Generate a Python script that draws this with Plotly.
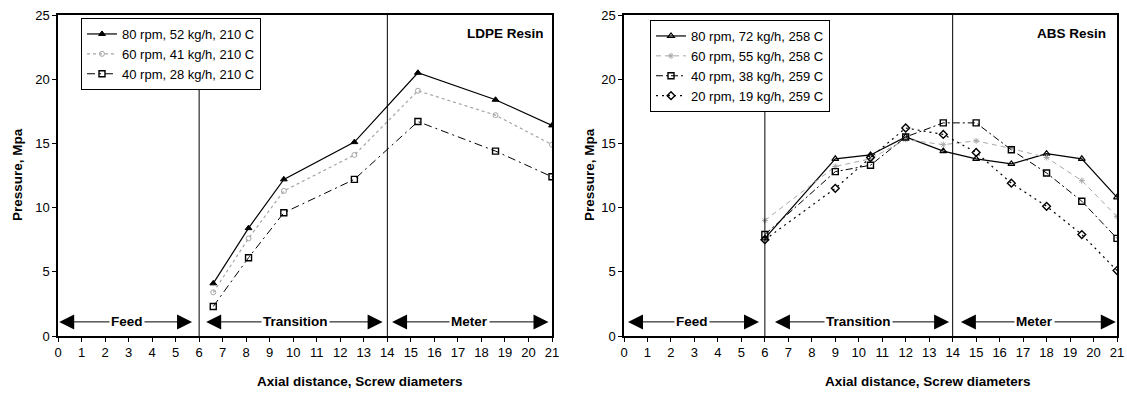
import plotly.graph_objects as go

# ---------------- data ----------------
ldpe_x = [6.6, 8.1, 9.6, 12.6, 15.3, 18.6, 21]
ldpe_80 = [4.1, 8.4, 12.2, 15.1, 20.5, 18.4, 16.4]
ldpe_60 = [3.4, 7.6, 11.3, 14.1, 19.1, 17.2, 14.9]
ldpe_40 = [2.3, 6.1, 9.6, 12.2, 16.7, 14.4, 12.4]
ldpe_names = ["80 rpm, 52 kg/h, 210 C", "60 rpm, 41 kg/h, 210 C", "40 rpm, 28 kg/h, 210 C"]

abs_x = [6, 9, 10.5, 12, 13.6, 15, 16.5, 18, 19.5, 21]
abs_80 = [7.6, 13.8, 14.1, 15.5, 14.4, 13.8, 13.4, 14.2, 13.8, 10.8]
abs_60 = [9.0, 13.2, 13.8, 15.3, 14.9, 15.2, 14.6, 13.9, 12.1, 9.3]
abs_40 = [7.9, 12.8, 13.3, 15.5, 16.6, 16.6, 14.5, 12.7, 10.5, 7.6]
abs_20 = [7.5, 11.5, 13.9, 16.2, 15.7, 14.3, 11.9, 10.1, 7.9, 5.1]
abs_names = ["80 rpm, 72 kg/h, 258 C", "60 rpm, 55 kg/h, 258 C",
             "40 rpm, 38 kg/h, 259 C", "20 rpm, 19 kg/h, 259 C"]

zone_names = ["Feed", "Transition", "Meter"]
zone_bounds = [0, 6, 14, 21]
resin_titles = ["LDPE Resin", "ABS Resin"]
x_title = "Axial distance, Screw diameters"
y_title = "Pressure, Mpa"

# ---------------- figure ----------------
FONT = "Liberation Sans, Arial, sans-serif"
fig = go.Figure()

def add(x, y, name, xa, ya, leg, color, dash, width, symbol, msize, mcolor, mline):
    fig.add_trace(go.Scatter(
        x=x, y=y, name=name, mode="lines+markers", xaxis=xa, yaxis=ya, legend=leg,
        line=dict(color=color, dash=dash, width=width),
        marker=dict(symbol=symbol, size=msize, color=mcolor,
                    line=dict(color=color, width=mline)),
    ))

# LDPE
add(ldpe_x, ldpe_80, ldpe_names[0], "x", "y", "legend", "black", "solid", 1.2, "triangle-up", 6, "black", 1)
add(ldpe_x, ldpe_60, ldpe_names[1], "x", "y", "legend", "#a5a5a5", "dot", 1.2, "circle-open", 5, "#a5a5a5", 1)
add(ldpe_x, ldpe_40, ldpe_names[2], "x", "y", "legend", "black", "8px,4px,2px,4px", 1.0, "square-open", 6, "black", 1.4)
# ABS
add(abs_x, abs_80, abs_names[0], "x2", "y2", "legend2", "black", "solid", 1.2, "triangle-up-open", 6, "black", 1.2)
add(abs_x, abs_60, abs_names[1], "x2", "y2", "legend2", "#a8a8a8", "5px,4px", 1.0, "asterisk-open", 5, "#a8a8a8", 1)
add(abs_x, abs_40, abs_names[2], "x2", "y2", "legend2", "black", "7px,3px,2px,3px", 1.0, "square-open", 6, "black", 1.4)
add(abs_x, abs_20, abs_names[3], "x2", "y2", "legend2", "black", "2px,4px", 1.2, "diamond-open", 6, "black", 1.4)

W, H = 1127, 395
L_dom = [58 / W, 552 / W]
R_dom = [624 / W, 1117 / W]
Y_dom = [1 - 336 / H, 1 - 15 / H]

def xax(dom, anchor, **kw):
    d = dict(domain=dom, anchor=anchor, range=[0, 21], tick0=0, dtick=1,
             showgrid=False, zeroline=False, showline=True, linecolor="black",
             linewidth=1.5, mirror=True, ticks="outside", ticklen=4, tickcolor="black",
             automargin=False,
             tickfont=dict(family=FONT, size=13, color="black"))
    d.update(kw)
    return d

def yax(anchor, **kw):
    d = dict(domain=Y_dom, anchor=anchor, range=[0, 25], tick0=0, dtick=5,
             showgrid=False, zeroline=False, showline=True, linecolor="black",
             linewidth=1.5, mirror=True, ticks="outside", ticklen=4, tickcolor="black",
             automargin=False,
             tickfont=dict(family=FONT, size=13, color="black"))
    d.update(kw)
    return d

leg_common = dict(bordercolor="black", borderwidth=1, bgcolor="white",
                  font=dict(family=FONT, size=13, color="black"),
                  xanchor="left", yanchor="top", tracegroupgap=0)

fig.update_layout(
    width=W, height=H, margin=dict(l=0, r=0, t=0, b=0, autoexpand=False),
    paper_bgcolor="white", plot_bgcolor="white",
    xaxis=xax(L_dom, "y"),
    yaxis=yax("x"),
    xaxis2=xax(R_dom, "y2"),
    yaxis2=yax("x2"),
    # overlay axes giving inside ticks (cross ticks)
    xaxis3=xax(L_dom, "y", overlaying="x", ticks="inside", showticklabels=False, showline=False, mirror=False),
    yaxis3=yax("x", overlaying="y", ticks="inside", showticklabels=False, showline=False, mirror=False),
    xaxis4=xax(R_dom, "y2", overlaying="x2", ticks="inside", showticklabels=False, showline=False, mirror=False),
    yaxis4=yax("x2", overlaying="y2", ticks="inside", showticklabels=False, showline=False, mirror=False),
    legend=dict(x=81 / W, y=1 - 18 / H, **leg_common),
    legend2=dict(x=650 / W, y=1 - 20 / H, **leg_common),
    showlegend=True,
)

# zone dividers and arrows
divider_tops = [{6: 19.7, 14: 25}, {6: 18.0, 14: 25}]
arrow_ends = [
    [(0.05, 5.7), (6.3, 13.8), (14.2, 20.85)],
    [(0.17, 5.75), (6.43, 13.85), (14.35, 20.95)],
]
label_pos = [[2.95, 10.1, 17.5], [2.9, 10.0, 17.5]]
arrow_y = 1.1
annotations = []
shapes = []
for p, (xr, yr) in enumerate([("x", "y"), ("x2", "y2")]):
    for b in zone_bounds[1:-1]:
        shapes.append(dict(type="line", xref=xr, yref=yr, x0=b, x1=b, y0=0,
                           y1=divider_tops[p][b], line=dict(color="black", width=1)))
    for z, name in enumerate(zone_names):
        a, bnd = arrow_ends[p][z]
        c = label_pos[p][z]
        for tip in (a, bnd):
            annotations.append(dict(x=tip, y=arrow_y, ax=c, ay=arrow_y, xref=xr, yref=yr,
                                    axref=xr, ayref=yr, text="", showarrow=True,
                                    arrowhead=2, arrowsize=3, arrowwidth=1,
                                    arrowcolor="black", standoff=0, startstandoff=0))
    for z, name in enumerate(zone_names):
        annotations.append(dict(x=label_pos[p][z], y=arrow_y, xref=xr, yref=yr, text="<b>%s</b>" % name,
                                showarrow=False, bgcolor="white",
                                font=dict(family=FONT, size=13.5, color="black"), borderpad=1))

# resin titles
annotations.append(dict(x=546 / W, y=1 - 33 / H, xref="paper", yref="paper", xanchor="right",
                        yanchor="middle", text="<b>%s</b>" % resin_titles[0], showarrow=False,
                        font=dict(family=FONT, size=13.5, color="black")))
annotations.append(dict(x=1108 / W, y=1 - 33 / H, xref="paper", yref="paper", xanchor="right",
                        yanchor="middle", text="<b>%s</b>" % resin_titles[1], showarrow=False,
                        font=dict(family=FONT, size=13.5, color="black")))
# axis titles
for cx in (360, 928):
    annotations.append(dict(x=cx / W, y=1 - 381 / H, xref="paper", yref="paper", xanchor="center",
                            yanchor="middle", text="<b>%s</b>" % x_title, showarrow=False,
                            font=dict(family=FONT, size=13.5, color="black")))
for cx in (18, 590):
    annotations.append(dict(x=cx / W, y=1 - 175 / H, xref="paper", yref="paper", xanchor="center",
                            yanchor="middle", text="<b>%s</b>" % y_title, showarrow=False,
                            textangle=-90, font=dict(family=FONT, size=13.5, color="black")))

fig.update_layout(annotations=annotations, shapes=shapes)
fig.write_html(
    "out.html",
    config={"displayModeBar": False},
    post_script="document.body.style.margin='0';document.body.style.padding='0';"
                "document.body.style.overflow='hidden';",
)
